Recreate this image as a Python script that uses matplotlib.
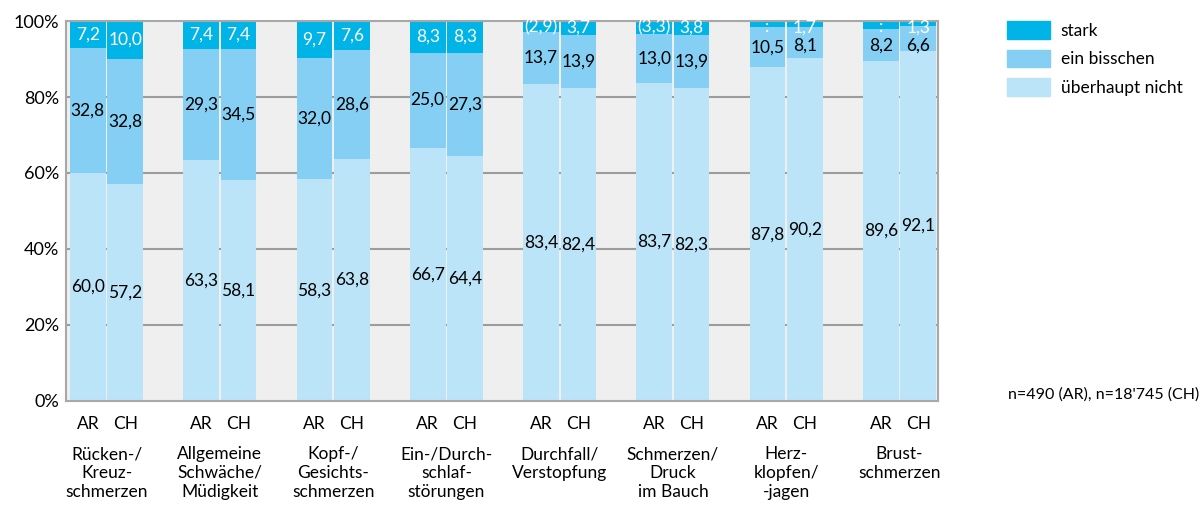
import numpy as np
import matplotlib.pyplot as plt
import matplotlib.transforms as mtransforms
from matplotlib.patches import Patch

plt.rcParams['font.family'] = ['Lato', 'DejaVu Sans']

categories = ['Rücken-/\nKreuz-\nschmerzen', 'Allgemeine\nSchwäche/\nMüdigkeit',
              'Kopf-/\nGesichts-\nschmerzen', 'Ein-/Durch-\nschlaf-\nstörungen',
              'Durchfall/\nVerstopfung', 'Schmerzen/\nDruck\nim Bauch',
              'Herz-\nklopfen/\n-jagen', 'Brust-\nschmerzen']

# AR
ar_nicht = [60.0, 63.3, 58.3, 66.7, 83.4, 83.7, 87.8, 89.6]
ar_bisschen = [32.8, 29.3, 32.0, 25.0, 13.7, 13.0, 10.5, 8.2]
ar_stark = [7.2, 7.4, 9.7, 8.3, 2.9, 3.3, 1.7, 2.2]
ar_stark_lbl = ['7,2', '7,4', '9,7', '8,3', '(2,9)', '(3,3)', ':', ':']

# CH
ch_nicht = [57.2, 58.1, 63.8, 64.4, 82.4, 82.3, 90.2, 92.1]
ch_bisschen = [32.8, 34.5, 28.6, 27.3, 13.9, 13.9, 8.1, 6.6]
ch_stark = [10.0, 7.4, 7.6, 8.3, 3.7, 3.8, 1.7, 1.3]

c_stark = '#00b4e8'
c_biss = '#84cff3'
c_nicht = '#bce4f8'
grid_c = '#9c9c9c'

fig = plt.figure(figsize=(12, 5.05), dpi=100)
ax = fig.add_axes([0.055, 0.206, 0.7267, 0.7524])
ax.set_facecolor('#efefef')

x = np.arange(len(categories))
w = 0.315
off = 0.165


def fmt(v):
    return f'{v:.1f}'.replace('.', ',')


for pos, nicht, biss, stark, slbl in [
        (x - off, ar_nicht, ar_bisschen, ar_stark, ar_stark_lbl),
        (x + off, ch_nicht, ch_bisschen, ch_stark, [fmt(v) for v in ch_stark])]:
    nicht = np.array(nicht)
    biss = np.array(biss)
    stark = np.array(stark)
    ax.bar(pos, nicht, w, color=c_nicht, zorder=2)
    ax.bar(pos, biss, w, bottom=nicht, color=c_biss, zorder=2)
    ax.bar(pos, stark, w, bottom=nicht + biss, color=c_stark, zorder=2)
    for i in range(len(pos)):
        ax.text(pos[i], nicht[i] / 2, fmt(nicht[i]), ha='center', va='center', fontsize=12.5, zorder=3)
        by = min(nicht[i] + biss[i] / 2, 93.4)
        ax.text(pos[i], by, fmt(biss[i]), ha='center', va='center', fontsize=12.5, zorder=3)
        ty = nicht[i] + biss[i] + stark[i] / 2
        if stark[i] < 4:
            ty = 98.3
        ax.text(pos[i], ty, slbl[i], ha='center', va='center', fontsize=12.5, color='white', zorder=3)

ax.set_ylim(0, 100)
ax.set_xlim(-0.34 - 0.018, 7.34)
ax.set_yticks([0, 20, 40, 60, 80, 100])
ax.set_yticklabels(['0%', '20%', '40%', '60%', '80%', '100%'], fontsize=13)
for g in [20, 40, 60, 80]:
    ax.axhline(g, color=grid_c, lw=1.5, zorder=1)
for s in ax.spines.values():
    s.set_color('#a8a8a8')
    s.set_linewidth(1.5)
ax.tick_params(axis='y', length=0, pad=5)
ax.tick_params(axis='x', length=0, pad=11)

xt = np.concatenate([x - off, x + off])
ax.set_xticks(xt)
ax.set_xticklabels(['AR'] * len(x) + ['CH'] * len(x), fontsize=12.5)

trans = mtransforms.blended_transform_factory(ax.transData, fig.transFigure)
for i, c in enumerate(categories):
    ax.text(x[i], 1 - 446 / 505, c, transform=trans, ha='center', va='top',
            fontsize=12.5, linespacing=1.22)

handles = [Patch(color=c_stark), Patch(color=c_biss), Patch(color=c_nicht)]
fig.legend(handles, ['stark', 'ein bisschen', 'überhaupt nicht'],
           loc='upper left', bbox_to_anchor=(0.8275, 0.986), frameon=False,
           fontsize=12.5, handlelength=2.5, handleheight=1.2, labelspacing=0.62,
           handletextpad=0.6, borderpad=0.3)

fig.text(0.999, 1 - 395 / 505, "n=490 (AR), n=18'745 (CH)", ha='right', va='center', fontsize=11.5)

fig.savefig('out.png', dpi=100)
